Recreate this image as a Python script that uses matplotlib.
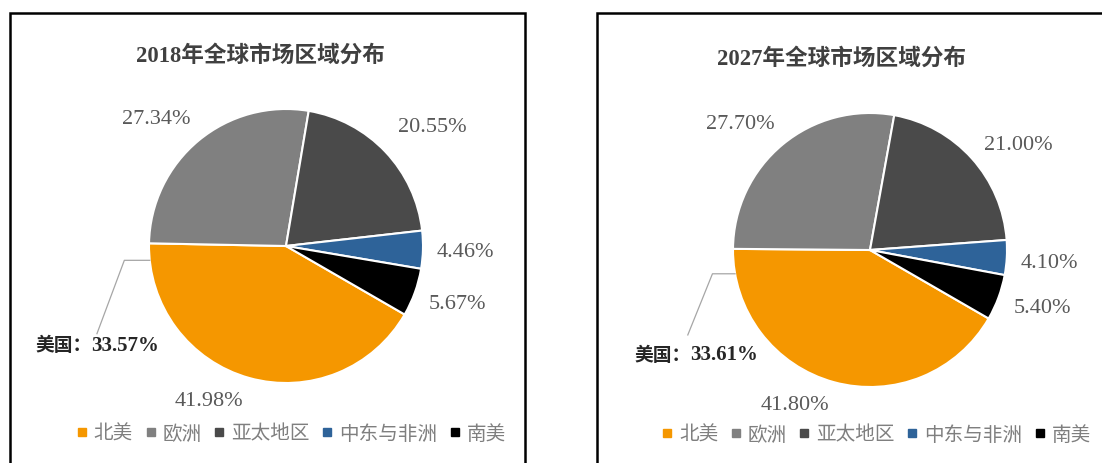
import numpy as np
import matplotlib.pyplot as plt
from matplotlib.lines import Line2D
from matplotlib.patches import Rectangle

# 数据
regions = ['北美', '欧洲', '亚太地区', '中东与非洲', '南美']
share_2018 = [41.98, 27.34, 20.55, 4.46, 5.67]
share_2027 = [41.80, 27.70, 21.00, 4.10, 5.40]
us_2018 = 33.57
us_2027 = 33.61
titles = ['2018年全球市场区域分布', '2027年全球市场区域分布']

colors = ['#F59700', '#808080', '#4A4A4A', '#2E6399', '#000000']
serif = ['Liberation Serif', 'Noto Sans CJK SC']
cjk = ['Noto Sans CJK SC', 'DejaVu Sans']

W, H = 1102, 464
fig = plt.figure(figsize=(W / 100, H / 100), dpi=100)


def fx(x):
    return x / W


def fy(y):
    return 1 - y / H


# 面板布局 (像素), 标签位置以饼半径为单位
panels = [
    dict(box=(10, 14, 525, 470), center=(286, 247), r=137, title=(260, 56),
         legend=(291, 434),
         label_pos=[(-0.56, -1.13), (-0.95, 0.93), (1.07, 0.87), (1.31, -0.04), (1.25, -0.42)],
         us_angle=186, us_elbow=-1.18, us_end=(-1.38, -0.64), us_text=(-1.83, -0.72)),
    dict(box=(597, 14, 1110, 470), center=(870, 251), r=137, title=(842, 59),
         legend=(876, 435),
         label_pos=[(-0.55, -1.13), (-0.95, 0.92), (1.08, 0.77), (1.31, -0.09), (1.26, -0.42)],
         us_angle=190, us_elbow=-1.15, us_end=(-1.33, -0.62), us_text=(-1.72, -0.76)),
]
shares = [share_2018, share_2027]
us_vals = [us_2018, us_2027]

for p, vals, us, title in zip(panels, shares, us_vals, titles):
    x0, y0, x1, y1 = p['box']
    fig.patches.append(Rectangle((fx(x0), fy(y1)), fx(x1 - x0), (y1 - y0) / H,
                                 transform=fig.transFigure, fill=False,
                                 edgecolor='black', linewidth=1.8))
    fig.text(fx(p['title'][0]), fy(p['title'][1]), title, ha='center', va='center',
             fontsize=16.3, fontweight='bold', color='#404040', family=serif)

    cx, cy = p['center']
    r = p['r']
    ax = fig.add_axes([fx(cx - r), fy(cy + r), 2 * r / W, 2 * r / H])
    wedges, _ = ax.pie(vals, colors=colors, startangle=-30, counterclock=False,
                       wedgeprops=dict(edgecolor='white', linewidth=1.5))
    ax.set_xlim(-1, 1)
    ax.set_ylim(-1, 1)
    ax.axis('off')

    for v, (lx, ly) in zip(vals, p['label_pos']):
        ax.text(lx, ly, f'{v:.2f}%', ha='center', va='center',
                fontsize=16, color='#595959', family=serif)

    # 美国 标注
    a = np.deg2rad(p['us_angle'])
    ax0, ay0 = np.cos(a), np.sin(a)
    ax.plot([ax0, p['us_elbow'], p['us_end'][0]], [ay0, ay0, p['us_end'][1]],
            color='#A6A6A6', linewidth=0.9, clip_on=False)
    t1 = ax.text(p['us_text'][0], p['us_text'][1], '美国：', ha='left', va='center',
                 fontsize=13.5, color='#262626', family=cjk, fontweight='bold')
    ax.annotate(f'{us:.2f}%', xy=(1, 0.5), xycoords=t1, ha='left', va='center',
                fontsize=15, fontweight='bold', color='#262626', family=serif)

    handles = [Line2D([], [], marker='s', linestyle='none', markersize=5.5,
                      markerfacecolor=c, markeredgecolor=c) for c in colors]
    leg = fig.legend(handles, regions, loc='center', ncol=5,
                     bbox_to_anchor=(fx(p['legend'][0]), fy(p['legend'][1])),
                     frameon=False, handlelength=0.6, handletextpad=0.3,
                     columnspacing=0.6, borderpad=0,
                     prop=dict(family=cjk, size=14.1))
    for t in leg.get_texts():
        t.set_color('#7F7F7F')

fig.savefig('out.png', dpi=100)
